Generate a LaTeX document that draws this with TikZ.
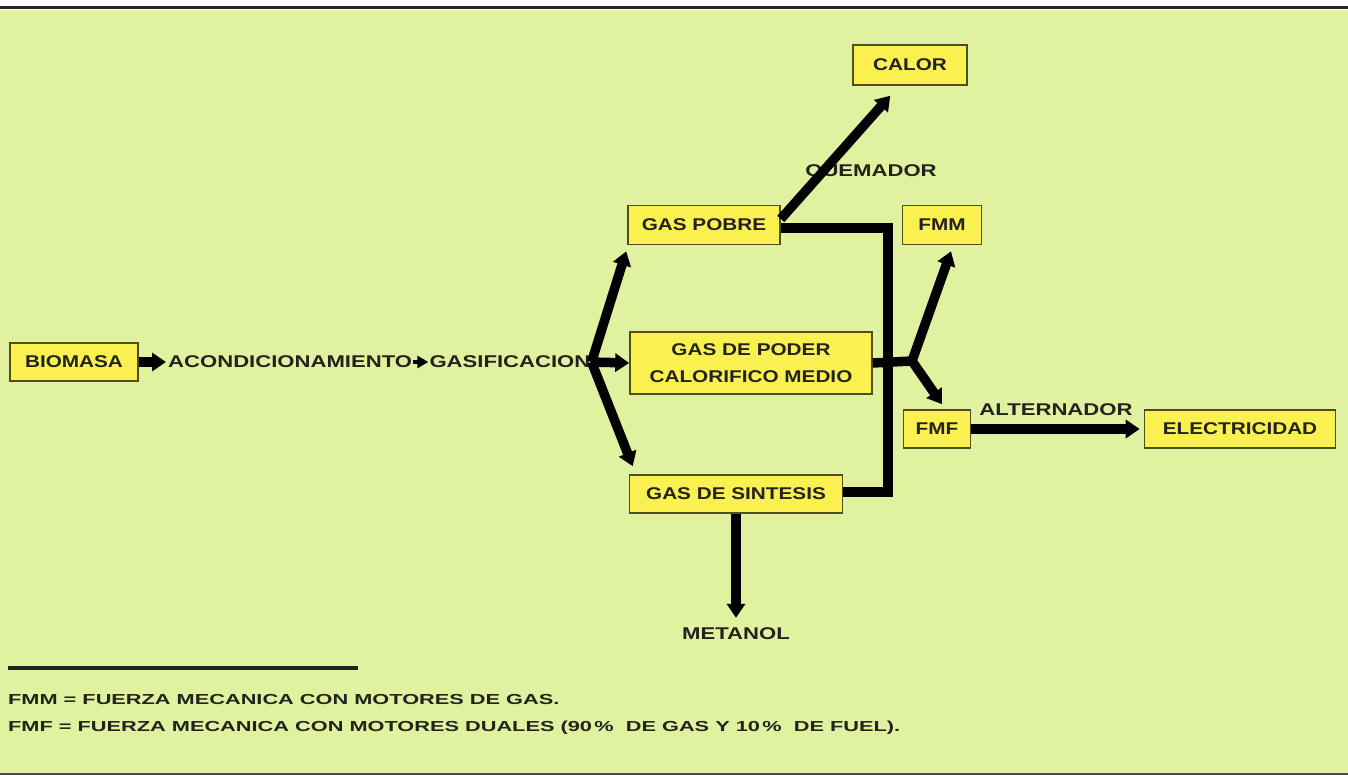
\documentclass[tikz,border=0pt]{standalone}
\usepackage{fontspec}
\newfontfamily\lab{Liberation Sans}[FakeStretch=1.22]
\newfontfamily\labw{Liberation Sans}[FakeStretch=1.3]
\newfontfamily\leg{Liberation Sans}[FakeStretch=1.5]
\usetikzlibrary{arrows.meta,calc}
\definecolor{bg}{RGB}{224,242,160}
\definecolor{boxfill}{RGB}{250,240,80}
\definecolor{boxline}{RGB}{80,78,30}
\definecolor{ink}{RGB}{35,35,30}
\begin{document}
\begin{tikzpicture}[x=1pt,y=-1pt,
 box/.style={draw=boxline, line width=1.6pt, fill=boxfill, inner sep=0pt, minimum height=38pt, text=ink, font=\lab\bfseries\fontsize{17}{27}\selectfont, align=center},
 txt/.style={inner sep=0pt, text=ink, font=\labw\bfseries\fontsize{17}{27}\selectfont},
 flow/.style={draw=black, line width=9.5pt, -{Triangle[length=14pt,width=18pt]}},
 link/.style={draw=black, line width=9.5pt},
 legend/.style={anchor=west, inner sep=0pt, text=ink, font=\leg\bfseries\fontsize{14.5}{17}\selectfont}]
\useasboundingbox (0,0) rectangle (1348,775);
\fill[white] (0,0) rectangle (1348,775);
\fill[bg] (0,10) rectangle (1348,775);
\draw[line width=3pt, black!85] (0,8) -- (1348,8);
\draw[line width=3pt, black!70] (0,774) -- (1348,774);

\node[box, minimum width=128pt] (bio) at (74,362) {BIOMASA};
\node[txt, anchor=west] (acon) at (168,362) {ACONDICIONAMIENTO};
\node[txt, anchor=west] (gasif) at ([xshift=17pt]acon.east) {GASIFICACION};
\node[box, minimum width=152pt, minimum height=39pt] (gp) at (704,225) {GAS POBRE};
\node[box, minimum width=242pt, minimum height=62pt] (gpm) at (751,363) {GAS DE PODER\\CALORIFICO MEDIO};
\node[box, minimum width=213pt] (gs) at (736,494) {GAS DE SINTESIS};
\node[box, minimum width=114pt, minimum height=40pt] (calor) at (910,65) {CALOR};
\node[box, minimum width=79pt, minimum height=39pt] (fmm) at (942,225) {FMM};
\node[box, minimum width=67pt] (fmf) at (937,429) {FMF};
\node[box, minimum width=191pt] (elec) at (1240,429) {ELECTRICIDAD};
\node[txt] (quem) at (871,172) {QUEMADOR};
\node[txt] (alt) at (1056,410) {ALTERNADOR};
\node[txt] (met) at (736,634) {METANOL};

\coordinate (fork) at ([xshift=1pt]gasif.east);
\coordinate (bx) at (888,360);
\coordinate (jn) at (912,361);

\draw[flow] (bio.east) -- ([xshift=-2pt]acon.west);
\draw[draw=black, line width=4pt, -{Triangle[length=11pt,width=12pt]}] ([xshift=1pt]acon.east) -- ([xshift=-1pt]gasif.west);
\draw[flow] (gasif.east) -- (gpm.west);
\draw[flow] (fork) -- ($(gp.south west)+(-1,6)$);
\draw[flow] (fork) -- ($(gs.north west)+(4,-8)$);
\draw[flow] ([yshift=6pt]gp.east) -- ($(calor.south west)+(38,10)$);
\draw[link] ([yshift=-3pt]gp.east) -| (bx) |- ([yshift=2pt]gs.east);
\draw[link] (gpm.east) -- (jn);
\draw[flow] (jn) -- ($(fmm.south)+(9,6)$);
\draw[flow] (jn) -- ($(fmf.north)+(5,-5)$);
\draw[flow] (fmf.east) -- ([xshift=-4pt]elec.west);
\draw[flow] (gs.south) -- ([yshift=10pt]met.north);

\draw[line width=3.5pt, ink] (8,668) -- (358,668);
\node[legend] (l1) at (8,700) {FMM = FUERZA MECANICA CON MOTORES DE GAS.};
\node[legend] (l2) at (8,728) {FMF = FUERZA MECANICA CON MOTORES DUALES (90\,\%\ \ DE GAS Y 10\,\%\ \ DE FUEL).};
\end{tikzpicture}
\end{document}
